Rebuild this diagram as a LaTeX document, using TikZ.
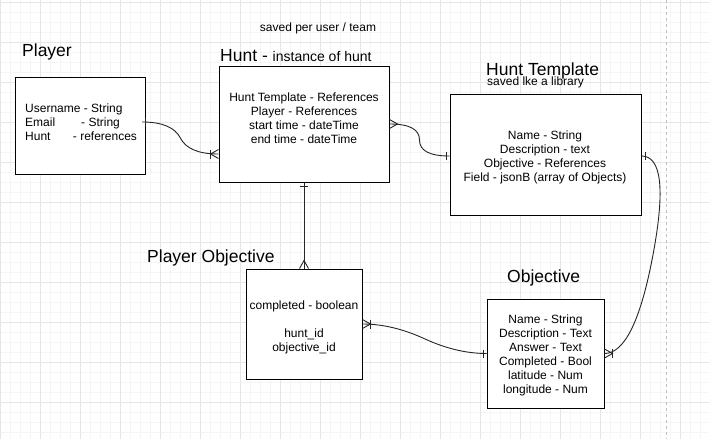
\documentclass[tikz,border=0pt]{standalone}
\usepackage{fontspec}
\setmainfont{Liberation Sans}
\usetikzlibrary{calc}
\tikzset{
  box/.style={draw=black, line width=1pt, fill=white, inner sep=0pt},
  body/.style={font=\fontsize{12}{14}\selectfont, inner sep=0pt, text=black},
  title/.style={font=\fontsize{17.5}{20}\selectfont, inner sep=0pt, anchor=west, text=black},
  conn/.style={line width=0.9pt, draw=black!85},
  minorg/.style={draw={rgb,255:red,245;green,245;blue,245}, line width=1pt},
  majorg/.style={draw={rgb,255:red,230;green,230;blue,230}, line width=1pt},
  pagedash/.style={draw={rgb,255:red,190;green,190;blue,190}, line width=1pt, dash pattern=on 3pt off 3pt},
  pics/erone/.style={code={\draw[conn] (3.5,-4)--(3.5,4);}},
  pics/ermany/.style={code={\draw[conn] (0,-4.5)--(8,0)--(0,4.5);}},
  pics/eronemany/.style={code={\draw[conn] (0,-4.5)--(8,0)--(0,4.5); \draw[conn] (8,-4.5)--(8,4.5);}},
}
\newcommand\ErCurve[4]{%
  \path (#1) ++(#2,0) coordinate (ea);
  \path (#3) ++(#4,0) coordinate (eb);
  \coordinate (em) at ($(ea)!0.5!(eb)$);
  \draw[conn] (#1) .. controls ($(#1)!0.6667!(ea)$) and ($(em)!0.6667!(ea)$) .. (em)
    .. controls ($(em)!0.6667!(eb)$) and ($(#3)!0.6667!(eb)$) .. (#3);
}
\begin{document}
\begin{tikzpicture}[x=1pt,y=-1pt]
\useasboundingbox (0,0) rectangle (709,439);
\fill[white] (0,0) rectangle (709,439);
% grid
\foreach \x in {0,10,...,700} \draw[minorg] (\x,0) -- (\x,439);
\foreach \y in {2,12,...,432} \draw[minorg] (0,\y) -- (709,\y);
\foreach \x in {0,40,...,680} \draw[majorg] (\x,0) -- (\x,439);
\foreach \y in {2,42,...,402} \draw[majorg] (0,\y) -- (709,\y);
\draw[pagedash] (666.7,0) -- (666.7,439);

% titles
\node[title] (tpl) at (22,51.5) {Player};
\node[title] (thu) at (220,55.5) {Hunt - {\fontsize{14}{16}\selectfont instance of hunt}};
\node[body] (tsv) at (318,28.5) {saved per user / team};
\node[title] (tht) at (486,70.5) {Hunt Template};
\node[body, anchor=west] (tlib) at (487,82.2) {saved lke a library};
\node[title] (tpo) at (147,257.5) {Player Objective};
\node[title] (tob) at (507,278) {Objective};

% boxes
\node[box, minimum width=130pt, minimum height=97pt] (pl) at (80,125.5) {};
\node[box, minimum width=170pt, minimum height=116pt] (hu) at (304,124) {};
\node[box, minimum width=191pt, minimum height=121pt] (ht) at (545.5,154.5) {};
\node[box, minimum width=116pt, minimum height=110pt] (po) at (304,324) {};
\node[box, minimum width=117pt, minimum height=109pt] (ob) at (545.5,353.5) {};

% box texts
\node[body, anchor=west, align=left] (plt) at (25,121.8) {Username - String\\Email\hspace{26pt}- String\\Hunt\hspace{22.4pt}- references};
\node[body, align=center] (hut) at (304,118.7) {Hunt Template - References\\Player - References\\start time - dateTime\\end time - dateTime};
\node[body, align=center] (htt) at (545,157.5) {Name - String\\Description - text\\Objective - References\\Field - jsonB (array of Objects)};
\node[body, align=center] (pot) at (304,327) {completed - boolean\\\mbox{}\\hunt\_id\\objective\_id};
\node[body, align=center] (obt) at (545.5,355.2) {Name - String\\Description - Text\\Answer - Text\\Completed - Bool\\latitude - Num\\longitude - Num};

% connection points
\coordinate (c1a) at ([xshift=-3.3pt, yshift=3.5pt]pl.east);
\coordinate (c1b) at ([yshift=-30pt]hu.west);
\coordinate (c2a) at (hu.east);
\coordinate (c2b) at ([yshift=-1.5pt]ht.west);
\coordinate (c4a) at (po.east);
\coordinate (c4b) at (ob.west);
\coordinate (c5a) at ([yshift=-1.5pt]ht.east);
\coordinate (c5b) at (ob.east);

% connectors
\ErCurve{c1a}{30}{c1b}{-30}
\ErCurve{c2a}{30}{c2b}{-30}
\draw[conn] (hu.south) -- (po.north);
\ErCurve{c4a}{30}{c4b}{-30}
\ErCurve{c5a}{30}{c5b}{30}

% markers
\pic at (c1a) {erone};
\pic[rotate=180] at (c1b) {eronemany};
\pic at (c2a) {ermany};
\pic[rotate=180] at (c2b) {erone};
\pic[rotate=-90] at (hu.south) {erone};
\pic[rotate=90] at (po.north) {ermany};
\pic at (c4a) {eronemany};
\pic[rotate=180] at (c4b) {erone};
\pic at (c5a) {erone};
\pic at (c5b) {eronemany};
\end{tikzpicture}
\end{document}
